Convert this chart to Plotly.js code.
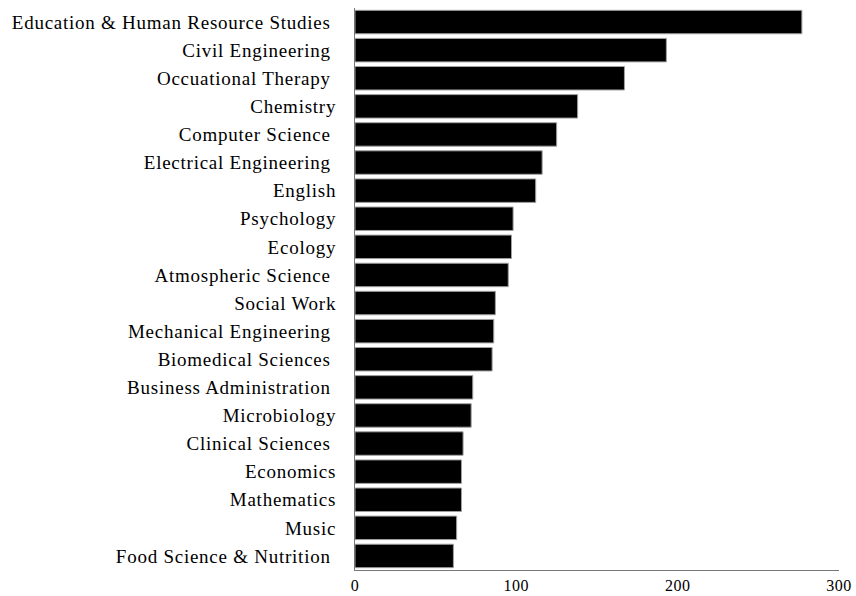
<!DOCTYPE html>
<html>
<head>
<meta charset="utf-8">
<script src="https://cdn.plot.ly/plotly-3.0.1.min.js"></script>
<style>
html,body{margin:0;padding:0;background:#fff;}
#chart{width:856px;height:596px;}
#chart .ytick text{letter-spacing:0.75px;}
#chart .xtick text{letter-spacing:0.5px;}
</style>
</head>
<body>
<div id="chart"></div>
<script>
const departments = [
  "Education & Human Resource Studies ",
  "Civil Engineering ",
  "Occuational Therapy ",
  "Chemistry",
  "Computer Science ",
  "Electrical Engineering ",
  "English",
  "Psychology",
  "Ecology",
  "Atmospheric Science ",
  "Social Work",
  "Mechanical Engineering ",
  "Biomedical Sciences ",
  "Business Administration ",
  "Microbiology",
  "Clinical Sciences ",
  "Economics",
  "Mathematics",
  "Music",
  "Food Science & Nutrition "
];
const counts = [277, 193, 167, 138, 125, 116, 112, 98, 97, 95, 87, 86, 85, 73, 72, 67, 66, 66, 63, 61];
const xTicks = [0, 100, 200, 300];

const trace = {
  type: 'bar',
  orientation: 'h',
  y: departments,
  x: counts,
  marker: {color: '#000000', line: {color: '#a0a0a0', width: 1}},
  hoverinfo: 'x+y'
};

const layout = {
  width: 856,
  height: 596,
  margin: {l: 355, r: 17, t: 8, b: 26},
  paper_bgcolor: '#ffffff',
  plot_bgcolor: '#ffffff',
  bargap: 0.165,
  showlegend: false,
  font: {family: '"Liberation Serif", "Times New Roman", serif', color: '#000', size: 19},
  xaxis: {
    range: [0, 300],
    tickvals: xTicks,
    ticktext: xTicks.map(String),
    showgrid: false,
    zeroline: false,
    showline: true,
    linecolor: '#777',
    linewidth: 1,
    ticks: '',
    tickfont: {size: 16},
    ticklabelstandoff: 1
  },
  yaxis: {
    type: 'category',
    autorange: 'reversed',
    showgrid: false,
    zeroline: false,
    showline: true,
    linecolor: '#777',
    linewidth: 1,
    ticks: '',
    tickfont: {size: 19},
    ticklabelstandoff: 14
  }
};

Plotly.newPlot('chart', [trace], layout, {displayModeBar: false, staticPlot: true});
</script>
</body>
</html>
